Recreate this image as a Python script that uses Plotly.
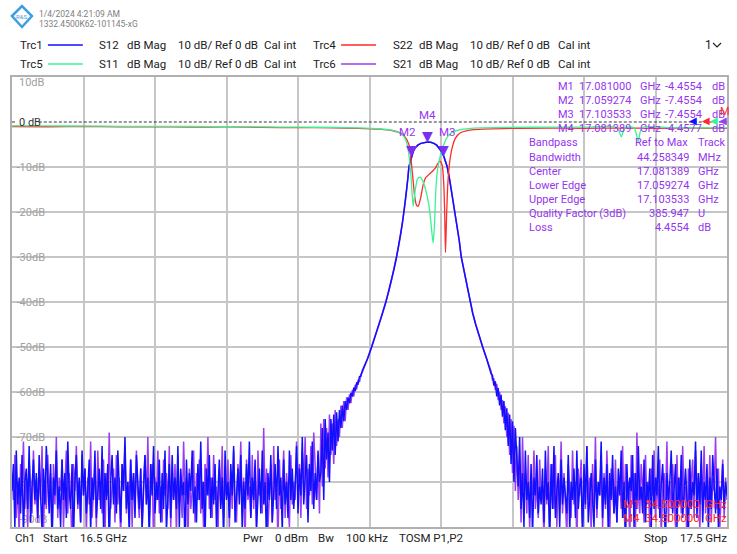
import numpy as np
import plotly.graph_objects as go

# ---------------- sweep / data ----------------
F_START, F_STOP = 16.5, 17.5
STEP = 0.002  # GHz between sweep points in the noise / tail sections

# S21 (Trc6, purple) noise floor, left of the passband (16.500 ... 16.930 GHz)
S21_NOISE_L = [
    -78, -84, -74, -88, -80, -92, -76, -83, -71, -86, -79, -90, -75, -82, -87, -73, -85, -81,
    -89, -77, -84, -72, -91, -80, -86, -74, -83, -78, -93, -76, -85, -70, -88, -79, -82, -75,
    -90, -81, -73, -87, -78, -84, -95, -76, -82, -72, -86, -80, -89, -74, -83, -77, -91, -79,
    -85, -71, -88, -82, -76, -90, -73, -84, -80, -87, -75, -92, -78, -83, -69, -86, -81, -77,
    -89, -74, -85, -79, -93, -76, -82, -72, -87, -80, -84, -75, -90, -78, -86, -73, -83, -88,
    -77, -91, -80, -74, -85, -70, -88, -82, -76, -94, -79, -84, -73, -87, -81, -89, -75, -83,
    -78, -86, -72, -90, -80, -84, -76, -92, -74, -85, -81, -88, -71, -83, -79, -95, -77, -86,
    -82, -73, -89, -78, -84, -75, -87, -80, -91, -76, -83, -70, -86, -79, -88, -74, -84, -81,
    -92, -77, -85, -72, -88, -80, -83, -75, -90, -78, -86, -73, -84, -89, -76, -82, -71, -87,
    -79, -93, -75, -84, -81, -88, -74, -86, -78, -91, -73, -83, -80, -87, -68, -85, -77, -90,
    -82, -76, -89, -72, -84, -79, -94, -75, -86, -81, -73, -88, -78, -83, -90, -74, -85, -80,
    -84, -71, -80, -76, -88, -73, -81, -70, -86, -77, -83, -72, -85, -69, -79, -84, -74, -87,
]
# S12 (Trc1, blue) noise floor, left of the passband
S12_NOISE_L = [
    -82, -76, -90, -73, -85, -79, -87, -74, -92, -80, -77, -86, -72, -89, -81, -75, -84, -78,
    -88, -74, -83, -91, -77, -85, -72, -80, -87, -76, -94, -79, -83, -73, -86, -81, -90, -75,
    -84, -78, -88, -71, -82, -86, -76, -93, -80, -74, -85, -79, -89, -73, -83, -77, -87, -82,
    -75, -91, -79, -84, -73, -88, -81, -77, -86, -72, -90, -78, -84, -76, -95, -80, -74, -85,
    -79, -87, -73, -83, -89, -76, -82, -70, -86, -80, -92, -75, -84, -78, -88, -74, -81, -86,
    -77, -90, -82, -74, -85, -79, -93, -76, -83, -72, -87, -80, -84, -75, -89, -78, -86, -73,
    -91, -81, -76, -88, -74, -84, -79, -86, -72, -90, -77, -83, -80, -95, -75, -85, -78, -82,
    -73, -87, -81, -89, -76, -84, -71, -86, -80, -92, -77, -83, -74, -88, -79, -85, -76, -90,
    -82, -75, -86, -79, -93, -73, -84, -80, -88, -76, -83, -72, -89, -81, -77, -85, -74, -91,
    -80, -86, -76, -83, -71, -88, -79, -84, -75, -90, -82, -77, -87, -73, -85, -80, -94, -78,
    -84, -74, -89, -81, -76, -86, -72, -83, -79, -91, -75, -85, -80, -88, -73, -84, -77, -86,
    -81, -72, -87, -77, -83, -70, -85, -79, -74, -89, -76, -82, -71, -86, -78, -84, -73, -80,
]
# noise floor right of the passband (17.206 ... 17.500 GHz)
S21_NOISE_R = [
    -72, -84, -76, -89, -70, -82, -78, -87, -74, -91, -79, -83, -73, -86, -80, -88, -75, -84,
    -81, -93, -77, -85, -72, -89, -80, -76, -86, -74, -90, -79, -83, -71, -87, -78, -84, -92,
    -76, -82, -88, -73, -85, -80, -94, -77, -83, -75, -89, -81, -86, -72, -84, -79, -91, -76,
    -85, -70, -88, -80, -83, -74, -90, -78, -86, -73, -84, -92, -77, -82, -87, -75, -89, -81,
    -79, -86, -72, -88, -76, -84, -80, -93, -74, -85, -78, -90, -69, -83, -87, -76, -81, -89,
    -74, -85, -80, -91, -77, -83, -73, -88, -79, -86, -75, -92, -82, -78, -84, -71, -89, -80,
    -86, -76, -83, -90, -74, -85, -79, -87, -72, -84, -81, -94, -77, -86, -80, -75, -88, -73,
    -83, -78, -91, -76, -85, -72, -87, -80, -84, -74, -89, -79, -82, -70, -86, -77, -90, -81,
    -75, -88, -79, -84,
]
S12_NOISE_R = [
    -75, -81, -70, -86, -78, -90, -73, -84, -80, -88, -76, -92, -79, -83, -74, -87, -81, -85,
    -77, -89, -73, -84, -80, -94, -76, -86, -72, -88, -82, -78, -90, -75, -85, -79, -83, -87,
    -74, -91, -80, -84, -77, -88, -73, -86, -81, -79, -93, -76, -85, -72, -89, -82, -78, -84,
    -90, -75, -86, -80, -83, -71, -88, -79, -85, -76, -92, -78, -84, -74, -87, -81, -89, -77,
    -83, -73, -88, -80, -95, -76, -85, -79, -82, -74, -90, -78, -86, -72, -84, -81, -87, -75,
    -89, -80, -84, -77, -91, -74, -86, -79, -83, -72, -88, -81, -76, -85, -93, -78, -84, -80,
    -73, -87, -82, -76, -90, -79, -85, -74, -88, -81, -77, -84, -92, -75, -86, -80, -83, -71,
    -88, -78, -85, -73, -89, -80, -84, -76, -91, -79, -86, -74, -82, -87, -77, -90, -81, -84,
    -76, -86, -80, -83,
]
# lower skirt, where it meets the noise (16.932 ... 16.990 GHz and 17.170 ... 17.204 GHz)
S21_TAIL_L = [-67, -81, -66, -77, -68, -79, -65, -74, -67, -76, -64, -72, -66, -70, -63, -68,
              -62, -66.5, -61.2, -64, -60.5, -62.5, -59.6, -61, -58.4, -59.4, -57.3, -57.8,
              -56, -55.6]
S12_TAIL_L = [-78, -68, -84, -66, -75, -69, -80, -66, -73, -65, -74, -64.5, -71, -64, -68, -63,
              -66.5, -62, -64, -61.2, -62.5, -60.2, -61, -59, -59.8, -58, -58.2, -56.6, -56.5,
              -55.2]
S21_TAIL_R = [-55.4, -57.4, -57.0, -59.6, -58.2, -61.8, -60.0, -64.0, -61.8, -67, -63.2, -70,
              -64.6, -74, -66, -78, -67.5, -82]
S12_TAIL_R = [-55.9, -56.3, -58.6, -57.6, -61, -59.1, -63, -60.6, -65.5, -62, -68.5, -63.6,
              -72, -65, -76, -66.5, -80, -68]
# clean part of the transmission (skirts + passband), shared by S21 and S12
PASS_F = [16.99749, 17.00307, 17.00837, 17.01325, 17.01813, 17.02301, 17.02720, 17.03096,
          17.03459, 17.03794, 17.04086, 17.04365, 17.04603, 17.04812, 17.05021, 17.05202,
          17.05370, 17.05509, 17.0572, 17.0593, 17.0615, 17.064, 17.068, 17.072, 17.076,
          17.081, 17.0855, 17.090, 17.094, 17.097, 17.100, 17.1035, 17.1060, 17.10879,
          17.11227, 17.11534, 17.11897, 17.12259, 17.12566, 17.12831, 17.13138, 17.13431,
          17.13738, 17.14059, 17.14435, 17.14854, 17.15314, 17.15830, 17.16360, 17.16876]
PASS_DB = [-52.5, -50, -47.5, -45, -42.5, -40, -37.5, -35, -32.5, -30, -27.5, -25, -22.5, -20,
           -17.5, -15, -12.5, -10, -8.6, -7.45, -6.4, -5.7, -5.1, -4.75, -4.55, -4.455, -4.5,
           -4.75, -5.15, -5.7, -6.4, -7.45, -8.6, -10, -13, -16, -19.5, -23, -26.5, -30,
           -32.5, -35, -37.5, -40, -42.5, -45, -47.5, -50, -52.5, -55]

# reflection traces
S11_F = [16.50, 16.55, 16.60, 16.65, 16.70, 16.75, 16.80, 16.85, 16.90, 16.95, 16.98, 17.0132,
         17.0342, 17.0411, 17.0481, 17.0527, 17.0551, 17.0575, 17.0597, 17.0611, 17.0625,
         17.0644, 17.0668, 17.0690, 17.0712, 17.0736, 17.0784, 17.0830, 17.0862, 17.0890,
         17.0909, 17.0932, 17.0955, 17.0993, 17.1039, 17.1095, 17.1179, 17.1318, 17.1458,
         17.20, 17.25, 17.30, 17.346, 17.3522, 17.357, 17.370, 17.3759, 17.381, 17.42,
         17.46, 17.50]
S11_DB = [-0.85, -0.88, -0.9, -0.95, -0.97, -1.0, -1.05, -1.1, -1.15, -1.2, -1.3, -1.5, -1.9,
          -2.4, -3.2, -5.0, -7.3, -11.0, -16.1, -18.7, -17.0, -14.7, -12.8, -12.3, -12.3,
          -12.8, -15.0, -18.4, -22.8, -26.9, -22.8, -13.9, -10.2, -7.3, -5.0, -3.2, -2.1,
          -1.6, -1.35, -1.2, -1.15, -1.15, -1.2, -3.3, -1.25, -1.25, -4.3, -1.3, -1.25,
          -1.3, -1.3]
S22_F = [16.50, 16.55, 16.60, 16.65, 16.70, 16.75, 16.80, 16.85, 16.90, 16.95, 16.98, 17.0132,
         17.0342, 17.0411, 17.0481, 17.0551, 17.0583, 17.0611, 17.0635, 17.0659, 17.0681,
         17.0715, 17.0751, 17.0784, 17.0830, 17.0876, 17.0923, 17.0946, 17.0983, 17.1015,
         17.1039, 17.1053, 17.1063, 17.1077, 17.1095, 17.1123, 17.1155, 17.1202, 17.1272,
         17.1364, 17.1458, 17.20, 17.25, 17.30, 17.35, 17.40, 17.45, 17.50]
S22_DB = [-1.0, -1.05, -1.0, -1.1, -1.05, -1.15, -1.1, -1.2, -1.25, -1.3, -1.4, -1.6, -2.0,
          -2.3, -3.0, -5.0, -8.7, -13.2, -16.9, -18.5, -18.7, -16.9, -13.9, -12.4, -11.7,
          -11.0, -10.2, -9.5, -8.7, -9.5, -13.9, -21.3, -29.0, -21.3, -13.9, -8.7, -5.8,
          -3.6, -2.4, -1.9, -1.7, -1.4, -1.35, -1.4, -1.35, -1.4, -1.35, -1.4]

# markers
MARKER_NAMES = ["M1", "M2", "M3", "M4"]
MARKER_F = [17.081000, 17.059274, 17.103533, 17.081389]
MARKER_DB = [-4.4554, -7.4554, -7.4554, -4.4577]
BANDPASS_LABELS = ["Bandwidth", "Center", "Lower Edge", "Upper Edge", "Quality Factor (3dB)", "Loss"]
BANDPASS_VALUES = ["44.258349", "17.081389", "17.059274", "17.103533", "385.947", "4.4554"]
BANDPASS_UNITS = ["MHz", "GHz", "GHz", "GHz", "U", "dB"]

Y_TICKS = [-80, -70, -60, -50, -40, -30, -20, -10]

# ---------------- assemble traces ----------------
f_noise_l = F_START + STEP * np.arange(len(S21_NOISE_L))
f_tail_l = 16.932 + STEP * np.arange(len(S21_TAIL_L))
f_tail_r = 17.170 + STEP * np.arange(len(S21_TAIL_R))
f_noise_r = 17.206 + STEP * np.arange(len(S21_NOISE_R))


def trans(noise_l, tail_l, tail_r, noise_r):
    x = np.concatenate([f_noise_l, f_tail_l, PASS_F, f_tail_r, f_noise_r])
    y = np.concatenate([noise_l, tail_l, PASS_DB, tail_r, noise_r])
    return x, y


BLUE = "#1010ff"
PURPLE = "#9a3cf5"
RED = "#ff2a2a"
GREEN = "#3cf294"
MK = "#9535ee"
FONT = "Roboto"

fig = go.Figure()
x21, y21 = trans(S21_NOISE_L, S21_TAIL_L, S21_TAIL_R, S21_NOISE_R)
x12, y12 = trans(S12_NOISE_L, S12_TAIL_L, S12_TAIL_R, S12_NOISE_R)
fig.add_trace(go.Scatter(x=x21, y=y21, mode="lines", line=dict(color=PURPLE, width=1.5), name="S21"))
fig.add_trace(go.Scatter(x=x12, y=y12, mode="lines", line=dict(color=BLUE, width=1.5), name="S12"))
fig.add_trace(go.Scatter(x=S22_F, y=S22_DB, mode="lines",
                         line=dict(color=RED, width=1.3, shape="spline", smoothing=0.7), name="S22"))
fig.add_trace(go.Scatter(x=S11_F, y=S11_DB, mode="lines",
                         line=dict(color=GREEN, width=1.3, shape="spline", smoothing=0.7), name="S11"))
# dummy trace for the overlay axis carrying the bottom label
fig.add_trace(go.Scatter(x=[None], y=[None], yaxis="y2", showlegend=False))

# ---------------- geometry helpers (pixel -> paper) ----------------
L, R, T, B = 12, 729, 77, 527
W, H = R - L, B - T


def px(x):
    return (x - L) / W


def py(y):
    return (B - y) / H


ann = []


def text(x, y, s, color="#222222", size=11.5, anchor="left", family=FONT):
    ann.append(dict(x=px(x), y=py(y), xref="paper", yref="paper", text=s, showarrow=False,
                    xanchor=anchor, yanchor="middle", font=dict(family=family, size=size, color=color)))


shapes = []


def hline(x0, x1, y, color, width=1.6):
    shapes.append(dict(type="line", xref="paper", yref="paper", x0=px(x0), x1=px(x1),
                       y0=py(y), y1=py(y), line=dict(color=color, width=width)))


# header
shapes.append(dict(type="path", xref="paper", yref="paper",
                   path="M {} {} L {} {} L {} {} L {} {} Z".format(px(12), py(16), px(22), py(6), px(32), py(16), px(22), py(27)),
                   line=dict(color="#3d9ee0", width=2.5), fillcolor="white"))
text(22, 16.5, "R&S", color="#3d9ee0", size=6, anchor="center")
text(37, 14, "1/4/2024 4:21:09 AM", color="#808080", size=8.5)
text(37, 24.5, "1332.4500K62-101145-xG", color="#808080", size=8.5)

# legend rows
rows = [
    (45, "Trc1", BLUE, "S12", "Trc4", RED, "S22"),
    (64, "Trc5", GREEN, "S11", "Trc6", PURPLE, "S21"),
]
for y, t1, c1, s1, t2, c2, s2 in rows:
    text(18, y, t1)
    hline(48, 83, y, c1)
    text(97, y, s1)
    text(125, y, "dB Mag")
    text(176, y, "10 dB/ Ref 0 dB")
    text(263, y, "Cal int")
    text(312, y, t2)
    hline(342, 377, y, c2)
    text(392, y, s2)
    text(418, y, "dB Mag")
    text(469, y, "10 dB/ Ref 0 dB")
    text(558, y, "Cal int")
text(705, 45, "1", size=12)
shapes.append(dict(type="path", xref="paper", yref="paper",
                   path="M {} {} L {} {} L {} {}".format(px(715), py(43), px(719), py(47), px(723), py(43)),
                   line=dict(color="#222222", width=1.2)))

# y-axis extra labels
text(17, 83, "10dB", color="#a0a0a0", size=11)
text(17, 122, "0 dB", color="#333333", size=11)

# reference line at 0 dB (dashed), split around its label
for a, b in [(16.5, 16.5045), (16.5375, 17.5)]:
    shapes.append(dict(type="line", xref="x", yref="y", x0=a, x1=b, y0=0, y1=0,
                       line=dict(color="#333333", width=1, dash="3px,2px")))

# marker readout (top right)
RS = 11
for i, (name, f, db) in enumerate(zip(MARKER_NAMES, MARKER_F, MARKER_DB)):
    y = 86 + 14.1 * i
    text(558, y, name, color=MK, size=RS)
    text(635, y, "{:.6f}".format(f), color=MK, size=RS, anchor="right")
    text(640, y, "GHz", color=MK, size=RS)
    text(706, y, "{:.4f}".format(db), color=MK, size=RS, anchor="right")
    text(712, y, "dB", color=MK, size=RS)
text(528, 143, "Bandpass", color=MK, size=RS)
text(692, 143, "Ref to Max", color=MK, size=RS, anchor="right")
text(698, 143, "Track", color=MK, size=RS)
for i, (lab, val, unit) in enumerate(zip(BANDPASS_LABELS, BANDPASS_VALUES, BANDPASS_UNITS)):
    y = 157.2 + 14.15 * i
    text(528, y, lab, color=MK, size=RS)
    text(693, y, val, color=MK, size=RS, anchor="right")
    text(698, y, unit, color=MK, size=RS)

# marker symbols on the trace
for name, f, db in zip(MARKER_NAMES[1:], MARKER_F[1:], MARKER_DB[1:]):
    ann.append(dict(x=f, y=db, xref="x", yref="y", text="▼", showarrow=False, yanchor="bottom",
                    yshift=-4, font=dict(family="DejaVu Sans", size=14, color="#7d2ff0")))
    xs = {"M2": -4, "M3": 4, "M4": 0}[name]
    ys = {"M2": 15, "M3": 15, "M4": 18}[name]
    ann.append(dict(x=f, y=db, xref="x", yref="y", text=name, showarrow=False, yanchor="bottom",
                    xshift=xs, yshift=ys, font=dict(family=FONT, size=11.5, color=MK)))

# reference level arrows at the right edge
for xx, c in [(695, BLUE), (708, RED), (716, GREEN), (725, PURPLE)]:
    text(xx, 121, "◀", color=c, size=10, anchor="center", family="DejaVu Sans")
text(727, 111, "M", color=RED, size=11, anchor="center")

# red marker info (bottom right)
for y, name in [(504, "M1"), (518, "M4")]:
    text(623, y, name, color=RED, size=11.5)
    text(645, y, "34.500000", color=RED, size=11.5)
    text(705, y, "GHz", color=RED, size=11.5)

# footer
for x, s in [(13, "Ch1"), (41, "Start"), (78, "16.5 GHz"), (242, "Pwr"), (274, "0 dBm"),
             (317, "Bw"), (345, "100 kHz"), (398, "TOSM P1,P2"), (644, "Stop"), (680, "17.5 GHz")]:
    text(x, 538, s, size=11.5)

fig.update_layout(
    width=737, height=554,
    margin=dict(l=L, r=737 - R, t=T, b=554 - B),
    paper_bgcolor="white", plot_bgcolor="white",
    showlegend=False,
    annotations=ann, shapes=shapes,
    xaxis=dict(range=[F_START, F_STOP], tick0=F_START, dtick=0.1, showticklabels=False, ticks="",
               showgrid=True, gridcolor="#c6c6c6", gridwidth=1.5, zeroline=False,
               showline=True, linecolor="#b0b0b0", linewidth=1.5, mirror=True),
    yaxis=dict(range=[-90, 10], tickvals=Y_TICKS, ticktext=["-{}dB".format(-v) for v in Y_TICKS],
               ticklabelposition="inside", ticks="", layer="below traces", ticklabelstandoff=4,
               tickfont=dict(family=FONT, size=11, color="#a0a0a0"),
               showgrid=True, gridcolor="#c6c6c6", gridwidth=1.5, zeroline=False,
               showline=True, linecolor="#b0b0b0", linewidth=1.5, mirror=True),
    yaxis2=dict(range=[-90, 10], overlaying="y", side="left", tickvals=[-90], ticktext=["-90dB"],
                ticklabelposition="inside top", ticks="", layer="below traces", showgrid=False,
                zeroline=False, showline=False, ticklabelstandoff=4,
                tickfont=dict(family=FONT, size=11, color="#a0a0a0")),
)

fig.write_html("out.html", config={"displayModeBar": False},
               post_script="document.body.style.margin='0px';")
